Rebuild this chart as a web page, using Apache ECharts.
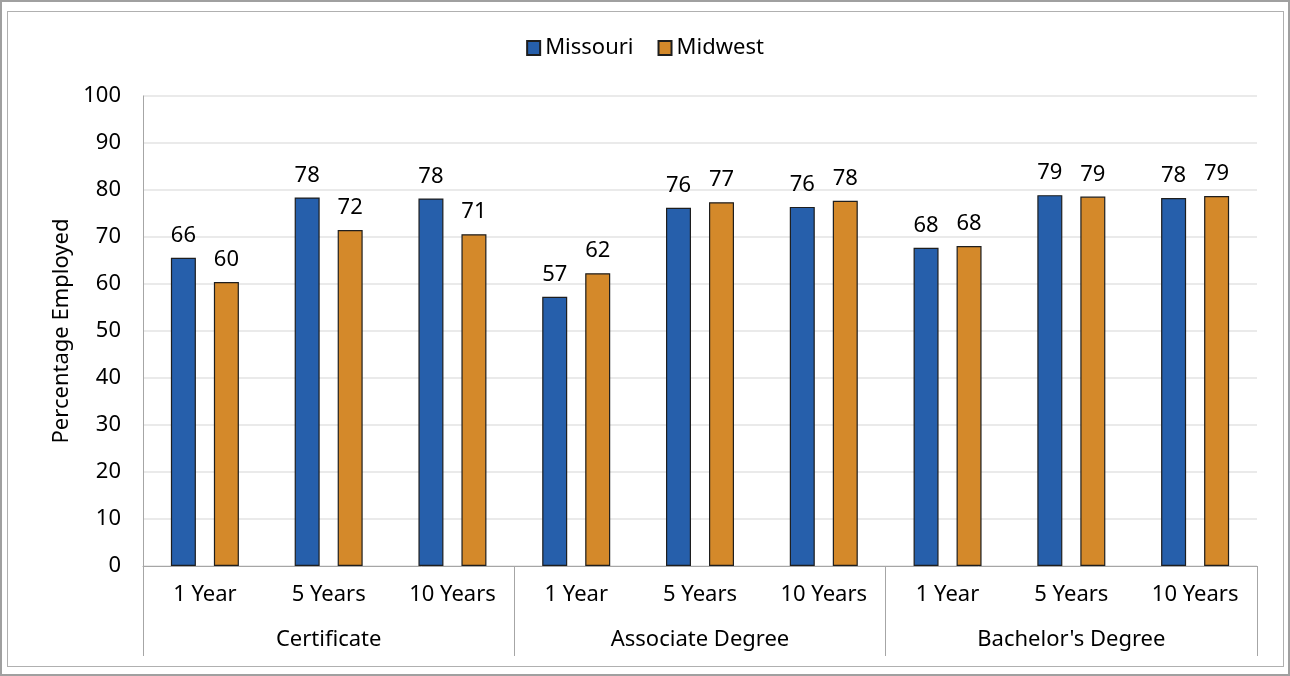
<!DOCTYPE html>
<html>
<head>
<meta charset="utf-8">
<script src="https://cdn.jsdelivr.net/npm/echarts@6/dist/echarts.min.js"></script>
<style>
  body { margin: 0; background: #fff; }
  #outer {
    position: absolute; left: 0; top: 0;
    width: 1286px; height: 672px;
    border: 2px solid #a0a0a0;
  }
  #inner {
    position: absolute; left: 7px; top: 11px;
    width: 1275px; height: 654px;
    border: 1px solid #b0b0b0;
  }
  #chart {
    position: absolute; left: 0; top: 0;
    width: 1290px; height: 676px;
  }
</style>
</head>
<body>
<div id="outer"></div>
<div id="inner"></div>
<div id="chart"></div>
<script>
// 数据
var years = ['1 Year', '5 Years', '10 Years', '1 Year', '5 Years', '10 Years', '1 Year', '5 Years', '10 Years']
var groups = ['Certificate', 'Associate Degree', "Bachelor's Degree"]
var missouri = [65.6, 78.4, 78.2, 57.3, 76.2, 76.4, 67.7, 78.9, 78.3]
var midwest = [60.4, 71.5, 70.6, 62.3, 77.4, 77.7, 68.1, 78.6, 78.7]

var font = 'Noto Sans'
var fs = 22
var axisGrey = '#a6a6a6'

var myChart = echarts.init(document.getElementById('chart'))

var labelStyle = {
  show: true,
  position: 'top',
  distance: 11,
  fontSize: fs,
  fontFamily: font,
  color: '#000',
  formatter: function (p) { return Math.round(p.value) }
}

var option = {
  animation: false,
  textStyle: { fontFamily: font },
  legend: {
    top: 32,
    left: 'center',
    itemWidth: 13,
    itemHeight: 14,
    itemGap: 24,
    icon: 'rect',
    textStyle: { fontSize: fs, fontFamily: font, color: '#000', padding: [0, 0, 0, 0] },
    data: ['Missouri', 'Midwest']
  },
  grid: { left: 143, right: 33, top: 96, bottom: 110 },
  xAxis: [
    {
      type: 'category',
      data: years,
      axisTick: { show: false },
      axisLine: { show: true, lineStyle: { color: axisGrey, width: 1 } },
      axisLabel: { fontSize: fs, fontFamily: font, color: '#000', margin: 18, interval: 0 }
    },
    {
      type: 'category',
      data: groups,
      position: 'bottom',
      axisLine: { show: false },
      axisTick: { show: true, length: 90, lineStyle: { color: axisGrey, width: 1 } },
      axisLabel: { fontSize: fs, fontFamily: font, color: '#000', margin: 63 },
      splitLine: { show: false }
    }
  ],
  yAxis: {
    type: 'value',
    min: 0,
    max: 100,
    interval: 10,
    name: 'Percentage Employed',
    nameLocation: 'middle',
    nameGap: 68,
    nameTextStyle: { fontSize: fs, fontFamily: font, color: '#000' },
    axisLine: { show: true, lineStyle: { color: axisGrey } },
    axisTick: { show: false },
    axisLabel: { fontSize: fs, fontFamily: font, color: '#000', margin: 22 },
    splitLine: { lineStyle: { color: '#e3e3e3', width: 1.5 } }
  },
  series: [
    {
      name: 'Missouri',
      type: 'bar',
      xAxisIndex: 0,
      data: missouri,
      barWidth: 25,
      barGap: '72%',
      itemStyle: { color: '#265fab', borderColor: '#1e1e1e', borderWidth: 1.2 },
      label: labelStyle
    },
    {
      name: 'Midwest',
      type: 'bar',
      xAxisIndex: 0,
      data: midwest,
      barWidth: 25,
      barGap: '72%',
      itemStyle: { color: '#d4892a', borderColor: '#1e1e1e', borderWidth: 1.2 },
      label: labelStyle
    }
  ]
}

myChart.setOption(option)
</script>
</body>
</html>
